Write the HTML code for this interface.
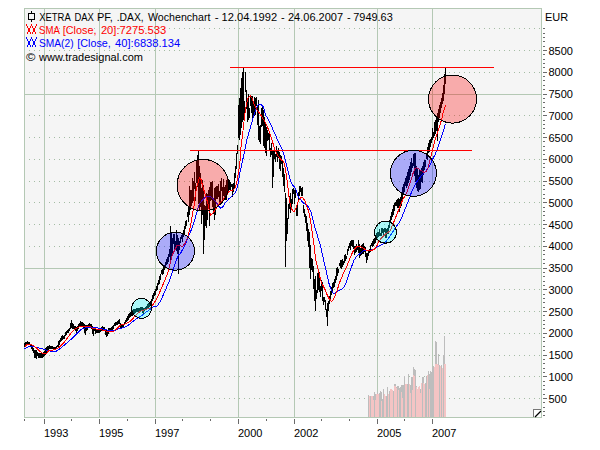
<!DOCTYPE html>
<html><head><meta charset="utf-8"><title>DAX Wochenchart</title>
<style>html,body{margin:0;padding:0;background:#fff;width:600px;height:450px;overflow:hidden}svg{display:block}</style>
</head><body>
<svg width="600" height="450" viewBox="0 0 600 450"><rect x="24" y="8" width="518" height="410" fill="#f5f5f5"/>
<line x1="29" y1="28.5" x2="541" y2="28.5" stroke="#a4bca4" stroke-width="1" stroke-dasharray="1 4"/>
<line x1="29" y1="50.5" x2="541" y2="50.5" stroke="#a4bca4" stroke-width="1" stroke-dasharray="1 4"/>
<line x1="29" y1="72.5" x2="541" y2="72.5" stroke="#a4bca4" stroke-width="1" stroke-dasharray="1 4"/>
<line x1="29" y1="115.5" x2="541" y2="115.5" stroke="#a4bca4" stroke-width="1" stroke-dasharray="1 4"/>
<line x1="29" y1="137.5" x2="541" y2="137.5" stroke="#a4bca4" stroke-width="1" stroke-dasharray="1 4"/>
<line x1="29" y1="159.5" x2="541" y2="159.5" stroke="#a4bca4" stroke-width="1" stroke-dasharray="1 4"/>
<line x1="29" y1="181.5" x2="541" y2="181.5" stroke="#a4bca4" stroke-width="1" stroke-dasharray="1 4"/>
<line x1="29" y1="202.5" x2="541" y2="202.5" stroke="#a4bca4" stroke-width="1" stroke-dasharray="1 4"/>
<line x1="29" y1="224.5" x2="541" y2="224.5" stroke="#a4bca4" stroke-width="1" stroke-dasharray="1 4"/>
<line x1="29" y1="246.5" x2="541" y2="246.5" stroke="#a4bca4" stroke-width="1" stroke-dasharray="1 4"/>
<line x1="29" y1="289.5" x2="541" y2="289.5" stroke="#a4bca4" stroke-width="1" stroke-dasharray="1 4"/>
<line x1="29" y1="311.5" x2="541" y2="311.5" stroke="#a4bca4" stroke-width="1" stroke-dasharray="1 4"/>
<line x1="29" y1="333.5" x2="541" y2="333.5" stroke="#a4bca4" stroke-width="1" stroke-dasharray="1 4"/>
<line x1="29" y1="355.5" x2="541" y2="355.5" stroke="#a4bca4" stroke-width="1" stroke-dasharray="1 4"/>
<line x1="29" y1="376.5" x2="541" y2="376.5" stroke="#a4bca4" stroke-width="1" stroke-dasharray="1 4"/>
<line x1="29" y1="398.5" x2="541" y2="398.5" stroke="#a4bca4" stroke-width="1" stroke-dasharray="1 4"/>
<line x1="24" y1="94.5" x2="541" y2="94.5" stroke="#b4c8b4" stroke-width="1"/>
<line x1="24" y1="268.5" x2="541" y2="268.5" stroke="#b4c8b4" stroke-width="1"/>
<line x1="44.5" y1="8" x2="44.5" y2="417" stroke="#b4c8b4" stroke-width="1"/>
<line x1="99.5" y1="8" x2="99.5" y2="417" stroke="#b4c8b4" stroke-width="1"/>
<line x1="155.5" y1="8" x2="155.5" y2="417" stroke="#b4c8b4" stroke-width="1"/>
<line x1="238.5" y1="8" x2="238.5" y2="417" stroke="#b4c8b4" stroke-width="1"/>
<line x1="294.5" y1="8" x2="294.5" y2="417" stroke="#b4c8b4" stroke-width="1"/>
<line x1="377.5" y1="8" x2="377.5" y2="417" stroke="#b4c8b4" stroke-width="1"/>
<line x1="432.5" y1="8" x2="432.5" y2="417" stroke="#b4c8b4" stroke-width="1"/>
<rect x="24.5" y="8.5" width="517" height="409" fill="none" stroke="#b4c8b4" stroke-width="1"/>
<g shape-rendering="crispEdges"><g fill="#bdbdbd"><rect x="368" y="395" width="1" height="22"/><rect x="370" y="396" width="1" height="21"/><rect x="373" y="396" width="1" height="21"/><rect x="374" y="392" width="1" height="25"/><rect x="375" y="394" width="1" height="23"/><rect x="377" y="392" width="1" height="25"/><rect x="379" y="393" width="1" height="24"/><rect x="380" y="391" width="1" height="26"/><rect x="381" y="392" width="1" height="25"/><rect x="382" y="399" width="1" height="18"/><rect x="383" y="389" width="1" height="28"/><rect x="386" y="396" width="1" height="21"/><rect x="387" y="387" width="1" height="30"/><rect x="389" y="391" width="1" height="26"/><rect x="392" y="391" width="1" height="26"/><rect x="393" y="391" width="1" height="26"/><rect x="394" y="384" width="1" height="33"/><rect x="395" y="384" width="1" height="33"/><rect x="396" y="387" width="1" height="30"/><rect x="397" y="386" width="1" height="31"/><rect x="398" y="386" width="1" height="31"/><rect x="399" y="388" width="1" height="29"/><rect x="400" y="387" width="1" height="30"/><rect x="401" y="385" width="1" height="32"/><rect x="402" y="385" width="1" height="32"/><rect x="403" y="385" width="1" height="32"/><rect x="404" y="376" width="1" height="41"/><rect x="407" y="384" width="1" height="33"/><rect x="408" y="374" width="1" height="43"/><rect x="410" y="385" width="1" height="32"/><rect x="411" y="377" width="1" height="40"/><rect x="412" y="377" width="1" height="40"/><rect x="413" y="367" width="1" height="50"/><rect x="414" y="369" width="1" height="48"/><rect x="415" y="370" width="1" height="47"/><rect x="416" y="386" width="1" height="31"/><rect x="420" y="389" width="1" height="28"/><rect x="422" y="377" width="1" height="40"/><rect x="423" y="377" width="1" height="40"/><rect x="425" y="383" width="1" height="34"/><rect x="426" y="376" width="1" height="41"/><rect x="428" y="371" width="1" height="46"/><rect x="429" y="374" width="1" height="43"/><rect x="430" y="371" width="1" height="46"/><rect x="431" y="372" width="1" height="45"/><rect x="432" y="367" width="1" height="50"/><rect x="433" y="366" width="1" height="51"/><rect x="435" y="341" width="1" height="76"/><rect x="436" y="342" width="1" height="75"/><rect x="438" y="354" width="1" height="63"/><rect x="439" y="365" width="1" height="52"/><rect x="441" y="365" width="1" height="52"/><rect x="443" y="355" width="1" height="62"/><rect x="444" y="336" width="1" height="81"/></g><g fill="#f4c4c4"><rect x="369" y="396" width="1" height="21"/><rect x="371" y="396" width="1" height="21"/><rect x="372" y="396" width="1" height="21"/><rect x="373" y="400" width="1" height="17"/><rect x="375" y="400" width="1" height="17"/><rect x="376" y="394" width="1" height="23"/><rect x="377" y="394" width="1" height="23"/><rect x="378" y="394" width="1" height="23"/><rect x="381" y="401" width="1" height="16"/><rect x="384" y="394" width="1" height="23"/><rect x="385" y="396" width="1" height="21"/><rect x="388" y="394" width="1" height="23"/><rect x="390" y="389" width="1" height="28"/><rect x="391" y="389" width="1" height="28"/><rect x="392" y="390" width="1" height="27"/><rect x="394" y="386" width="1" height="31"/><rect x="395" y="386" width="1" height="31"/><rect x="396" y="388" width="1" height="29"/><rect x="398" y="390" width="1" height="27"/><rect x="401" y="392" width="1" height="25"/><rect x="402" y="398" width="1" height="19"/><rect x="405" y="384" width="1" height="33"/><rect x="406" y="384" width="1" height="33"/><rect x="409" y="384" width="1" height="33"/><rect x="410" y="393" width="1" height="24"/><rect x="412" y="390" width="1" height="27"/><rect x="413" y="375" width="1" height="42"/><rect x="414" y="376" width="1" height="41"/><rect x="416" y="387" width="1" height="30"/><rect x="417" y="389" width="1" height="28"/><rect x="418" y="387" width="1" height="30"/><rect x="419" y="386" width="1" height="31"/><rect x="420" y="393" width="1" height="24"/><rect x="421" y="383" width="1" height="34"/><rect x="423" y="383" width="1" height="34"/><rect x="424" y="384" width="1" height="33"/><rect x="427" y="375" width="1" height="42"/><rect x="429" y="389" width="1" height="28"/><rect x="434" y="367" width="1" height="50"/><rect x="435" y="364" width="1" height="53"/><rect x="436" y="364" width="1" height="53"/><rect x="437" y="364" width="1" height="53"/><rect x="438" y="365" width="1" height="52"/><rect x="440" y="366" width="1" height="51"/><rect x="442" y="368" width="1" height="49"/><rect x="444" y="364" width="1" height="53"/><rect x="445" y="364" width="1" height="53"/></g></g>
<g fill="#000" shape-rendering="crispEdges"><rect x="24" y="343" width="1" height="4"/><rect x="25" y="342" width="1" height="5"/><rect x="26" y="342" width="1" height="4"/><rect x="27" y="341" width="1" height="4"/><rect x="28" y="342" width="1" height="3"/><rect x="29" y="342" width="1" height="3"/><rect x="30" y="344" width="1" height="3"/><rect x="31" y="345" width="1" height="4"/><rect x="32" y="347" width="1" height="4"/><rect x="33" y="348" width="1" height="5"/><rect x="34" y="350" width="1" height="8"/><rect x="35" y="350" width="1" height="8"/><rect x="36" y="350" width="1" height="9"/><rect x="37" y="352" width="1" height="4"/><rect x="38" y="353" width="1" height="5"/><rect x="39" y="353" width="1" height="5"/><rect x="40" y="353" width="1" height="5"/><rect x="41" y="353" width="1" height="5"/><rect x="42" y="353" width="1" height="5"/><rect x="43" y="352" width="1" height="5"/><rect x="44" y="351" width="1" height="5"/><rect x="45" y="348" width="1" height="7"/><rect x="46" y="347" width="1" height="7"/><rect x="47" y="346" width="1" height="5"/><rect x="48" y="346" width="1" height="4"/><rect x="49" y="345" width="1" height="4"/><rect x="50" y="346" width="1" height="3"/><rect x="51" y="346" width="1" height="3"/><rect x="52" y="346" width="1" height="3"/><rect x="53" y="347" width="1" height="2"/><rect x="54" y="347" width="1" height="3"/><rect x="55" y="347" width="1" height="3"/><rect x="56" y="346" width="1" height="2"/><rect x="57" y="345" width="1" height="2"/><rect x="58" y="341" width="1" height="6"/><rect x="59" y="340" width="1" height="5"/><rect x="60" y="338" width="1" height="4"/><rect x="61" y="336" width="1" height="5"/><rect x="62" y="335" width="1" height="5"/><rect x="63" y="336" width="1" height="3"/><rect x="64" y="335" width="1" height="4"/><rect x="65" y="332" width="1" height="4"/><rect x="66" y="331" width="1" height="4"/><rect x="67" y="330" width="1" height="3"/><rect x="68" y="329" width="1" height="4"/><rect x="69" y="328" width="1" height="3"/><rect x="70" y="323" width="1" height="6"/><rect x="71" y="320" width="1" height="8"/><rect x="72" y="323" width="1" height="6"/><rect x="73" y="324" width="1" height="5"/><rect x="74" y="326" width="1" height="3"/><rect x="75" y="326" width="1" height="5"/><rect x="76" y="327" width="1" height="6"/><rect x="77" y="326" width="1" height="5"/><rect x="78" y="324" width="1" height="5"/><rect x="79" y="323" width="1" height="4"/><rect x="80" y="321" width="1" height="5"/><rect x="81" y="322" width="1" height="4"/><rect x="82" y="322" width="1" height="4"/><rect x="83" y="323" width="1" height="6"/><rect x="84" y="324" width="1" height="9"/><rect x="85" y="325" width="1" height="10"/><rect x="86" y="325" width="1" height="6"/><rect x="87" y="325" width="1" height="5"/><rect x="88" y="324" width="1" height="4"/><rect x="89" y="323" width="1" height="4"/><rect x="90" y="324" width="1" height="3"/><rect x="91" y="324" width="1" height="5"/><rect x="92" y="326" width="1" height="8"/><rect x="93" y="329" width="1" height="7"/><rect x="94" y="327" width="1" height="4"/><rect x="95" y="327" width="1" height="7"/><rect x="96" y="329" width="1" height="4"/><rect x="97" y="329" width="1" height="4"/><rect x="98" y="329" width="1" height="4"/><rect x="99" y="329" width="1" height="4"/><rect x="100" y="328" width="1" height="4"/><rect x="101" y="327" width="1" height="4"/><rect x="102" y="326" width="1" height="4"/><rect x="103" y="327" width="1" height="4"/><rect x="104" y="327" width="1" height="4"/><rect x="105" y="329" width="1" height="6"/><rect x="106" y="330" width="1" height="7"/><rect x="107" y="330" width="1" height="6"/><rect x="108" y="328" width="1" height="6"/><rect x="109" y="328" width="1" height="4"/><rect x="110" y="328" width="1" height="2"/><rect x="111" y="327" width="1" height="3"/><rect x="112" y="326" width="1" height="4"/><rect x="113" y="325" width="1" height="4"/><rect x="114" y="323" width="1" height="3"/><rect x="115" y="322" width="1" height="4"/><rect x="116" y="322" width="1" height="3"/><rect x="117" y="321" width="1" height="4"/><rect x="118" y="320" width="1" height="4"/><rect x="119" y="319" width="1" height="5"/><rect x="120" y="323" width="1" height="5"/><rect x="121" y="324" width="1" height="5"/><rect x="122" y="325" width="1" height="3"/><rect x="123" y="324" width="1" height="3"/><rect x="124" y="322" width="1" height="3"/><rect x="125" y="320" width="1" height="3"/><rect x="126" y="318" width="1" height="4"/><rect x="127" y="316" width="1" height="5"/><rect x="128" y="314" width="1" height="6"/><rect x="129" y="313" width="1" height="5"/><rect x="130" y="312" width="1" height="5"/><rect x="131" y="311" width="1" height="5"/><rect x="132" y="310" width="1" height="6"/><rect x="133" y="309" width="1" height="6"/><rect x="134" y="309" width="1" height="5"/><rect x="135" y="309" width="1" height="4"/><rect x="136" y="308" width="1" height="4"/><rect x="137" y="308" width="1" height="4"/><rect x="138" y="308" width="1" height="4"/><rect x="139" y="308" width="1" height="3"/><rect x="140" y="307" width="1" height="4"/><rect x="141" y="307" width="1" height="4"/><rect x="142" y="307" width="1" height="6"/><rect x="143" y="308" width="1" height="6"/><rect x="144" y="308" width="1" height="3"/><rect x="145" y="307" width="1" height="3"/><rect x="146" y="306" width="1" height="3"/><rect x="147" y="304" width="1" height="5"/><rect x="148" y="303" width="1" height="5"/><rect x="149" y="302" width="1" height="5"/><rect x="150" y="301" width="1" height="5"/><rect x="151" y="299" width="1" height="7"/><rect x="152" y="295" width="1" height="6"/><rect x="153" y="293" width="1" height="6"/><rect x="154" y="291" width="1" height="5"/><rect x="155" y="289" width="1" height="6"/><rect x="156" y="286" width="1" height="5"/><rect x="157" y="283" width="1" height="7"/><rect x="158" y="280" width="1" height="5"/><rect x="159" y="276" width="1" height="8"/><rect x="160" y="274" width="1" height="6"/><rect x="161" y="270" width="1" height="4"/><rect x="162" y="269" width="1" height="6"/><rect x="163" y="267" width="1" height="7"/><rect x="164" y="265" width="1" height="5"/><rect x="165" y="262" width="1" height="5"/><rect x="166" y="259" width="1" height="6"/><rect x="167" y="257" width="1" height="7"/><rect x="168" y="254" width="1" height="8"/><rect x="169" y="249" width="1" height="8"/><rect x="170" y="226" width="1" height="36"/><rect x="171" y="232" width="1" height="24"/><rect x="172" y="238" width="1" height="17"/><rect x="173" y="234" width="1" height="10"/><rect x="174" y="234" width="1" height="18"/><rect x="175" y="241" width="1" height="9"/><rect x="176" y="230" width="1" height="21"/><rect x="177" y="235" width="1" height="19"/><rect x="178" y="238" width="1" height="36"/><rect x="179" y="241" width="1" height="9"/><rect x="180" y="237" width="1" height="6"/><rect x="181" y="235" width="1" height="4"/><rect x="182" y="234" width="1" height="8"/><rect x="183" y="230" width="1" height="7"/><rect x="184" y="226" width="1" height="9"/><rect x="185" y="221" width="1" height="8"/><rect x="186" y="220" width="1" height="6"/><rect x="187" y="212" width="1" height="5"/><rect x="188" y="206" width="1" height="16"/><rect x="189" y="186" width="1" height="29"/><rect x="190" y="190" width="1" height="20"/><rect x="191" y="190" width="1" height="16"/><rect x="192" y="178" width="1" height="25"/><rect x="193" y="181" width="1" height="20"/><rect x="194" y="172" width="1" height="17"/><rect x="195" y="183" width="1" height="18"/><rect x="196" y="161" width="1" height="22"/><rect x="197" y="155" width="1" height="32"/><rect x="198" y="151" width="1" height="53"/><rect x="199" y="166" width="1" height="45"/><rect x="200" y="173" width="1" height="34"/><rect x="201" y="188" width="1" height="36"/><rect x="202" y="180" width="1" height="35"/><rect x="203" y="185" width="1" height="69"/><rect x="204" y="205" width="1" height="35"/><rect x="205" y="206" width="1" height="20"/><rect x="206" y="193" width="1" height="35"/><rect x="207" y="194" width="1" height="26"/><rect x="208" y="190" width="1" height="16"/><rect x="209" y="187" width="1" height="39"/><rect x="210" y="182" width="1" height="19"/><rect x="211" y="182" width="1" height="18"/><rect x="212" y="181" width="1" height="26"/><rect x="213" y="198" width="1" height="16"/><rect x="214" y="188" width="1" height="32"/><rect x="215" y="187" width="1" height="28"/><rect x="216" y="186" width="1" height="13"/><rect x="217" y="186" width="1" height="13"/><rect x="218" y="184" width="1" height="13"/><rect x="219" y="191" width="1" height="14"/><rect x="220" y="181" width="1" height="24"/><rect x="221" y="178" width="1" height="13"/><rect x="222" y="187" width="1" height="16"/><rect x="223" y="179" width="1" height="17"/><rect x="224" y="187" width="1" height="13"/><rect x="225" y="185" width="1" height="15"/><rect x="226" y="180" width="1" height="20"/><rect x="227" y="176" width="1" height="17"/><rect x="228" y="181" width="1" height="12"/><rect x="229" y="180" width="1" height="10"/><rect x="230" y="182" width="1" height="9"/><rect x="231" y="184" width="1" height="3"/><rect x="232" y="184" width="1" height="13"/><rect x="233" y="183" width="1" height="9"/><rect x="234" y="173" width="1" height="16"/><rect x="235" y="166" width="1" height="12"/><rect x="236" y="153" width="1" height="16"/><rect x="237" y="145" width="1" height="9"/><rect x="238" y="105" width="1" height="33"/><rect x="239" y="98" width="1" height="42"/><rect x="240" y="88" width="1" height="47"/><rect x="241" y="78" width="1" height="50"/><rect x="242" y="72" width="1" height="50"/><rect x="243" y="68" width="1" height="52"/><rect x="244" y="101" width="1" height="20"/><rect x="245" y="72" width="1" height="20"/><rect x="246" y="90" width="1" height="19"/><rect x="247" y="101" width="1" height="21"/><rect x="248" y="94" width="1" height="26"/><rect x="249" y="108" width="1" height="10"/><rect x="250" y="96" width="1" height="10"/><rect x="251" y="96" width="1" height="17"/><rect x="252" y="96" width="1" height="22"/><rect x="253" y="103" width="1" height="14"/><rect x="254" y="97" width="1" height="19"/><rect x="255" y="98" width="1" height="17"/><rect x="256" y="97" width="1" height="9"/><rect x="257" y="107" width="1" height="18"/><rect x="258" y="100" width="1" height="40"/><rect x="259" y="126" width="1" height="16"/><rect x="260" y="125" width="1" height="19"/><rect x="261" y="108" width="1" height="19"/><rect x="262" y="107" width="1" height="19"/><rect x="263" y="110" width="1" height="36"/><rect x="264" y="117" width="1" height="31"/><rect x="265" y="122" width="1" height="31"/><rect x="266" y="127" width="1" height="29"/><rect x="267" y="130" width="1" height="11"/><rect x="268" y="133" width="1" height="7"/><rect x="269" y="134" width="1" height="17"/><rect x="270" y="148" width="1" height="9"/><rect x="271" y="143" width="1" height="12"/><rect x="272" y="150" width="1" height="38"/><rect x="273" y="151" width="1" height="26"/><rect x="274" y="149" width="1" height="10"/><rect x="275" y="154" width="1" height="8"/><rect x="276" y="146" width="1" height="11"/><rect x="277" y="151" width="1" height="11"/><rect x="278" y="148" width="1" height="10"/><rect x="279" y="152" width="1" height="17"/><rect x="280" y="155" width="1" height="16"/><rect x="281" y="156" width="1" height="8"/><rect x="282" y="160" width="1" height="17"/><rect x="283" y="168" width="1" height="18"/><rect x="284" y="174" width="1" height="18"/><rect x="285" y="193" width="1" height="74"/><rect x="286" y="198" width="1" height="43"/><rect x="287" y="218" width="1" height="16"/><rect x="288" y="204" width="1" height="15"/><rect x="289" y="196" width="1" height="13"/><rect x="290" y="193" width="1" height="20"/><rect x="291" y="199" width="1" height="11"/><rect x="292" y="189" width="1" height="15"/><rect x="293" y="188" width="1" height="6"/><rect x="294" y="190" width="1" height="14"/><rect x="295" y="190" width="1" height="8"/><rect x="296" y="206" width="1" height="10"/><rect x="297" y="205" width="1" height="11"/><rect x="298" y="192" width="1" height="10"/><rect x="299" y="186" width="1" height="10"/><rect x="300" y="186" width="1" height="6"/><rect x="301" y="188" width="1" height="8"/><rect x="302" y="187" width="1" height="9"/><rect x="303" y="205" width="1" height="8"/><rect x="304" y="209" width="1" height="8"/><rect x="305" y="214" width="1" height="9"/><rect x="306" y="216" width="1" height="15"/><rect x="307" y="223" width="1" height="18"/><rect x="308" y="229" width="1" height="18"/><rect x="309" y="232" width="1" height="36"/><rect x="310" y="245" width="1" height="34"/><rect x="311" y="258" width="1" height="12"/><rect x="312" y="259" width="1" height="13"/><rect x="313" y="266" width="1" height="23"/><rect x="314" y="279" width="1" height="22"/><rect x="315" y="276" width="1" height="35"/><rect x="316" y="290" width="1" height="9"/><rect x="317" y="273" width="1" height="20"/><rect x="318" y="270" width="1" height="20"/><rect x="319" y="272" width="1" height="20"/><rect x="320" y="286" width="1" height="11"/><rect x="321" y="280" width="1" height="11"/><rect x="322" y="282" width="1" height="19"/><rect x="323" y="297" width="1" height="8"/><rect x="324" y="297" width="1" height="5"/><rect x="325" y="300" width="1" height="10"/><rect x="326" y="309" width="1" height="8"/><rect x="327" y="303" width="1" height="23"/><rect x="328" y="301" width="1" height="10"/><rect x="329" y="296" width="1" height="8"/><rect x="330" y="291" width="1" height="10"/><rect x="331" y="287" width="1" height="8"/><rect x="332" y="283" width="1" height="8"/><rect x="333" y="282" width="1" height="6"/><rect x="334" y="279" width="1" height="8"/><rect x="335" y="276" width="1" height="7"/><rect x="336" y="268" width="1" height="12"/><rect x="337" y="267" width="1" height="9"/><rect x="338" y="269" width="1" height="4"/><rect x="339" y="263" width="1" height="3"/><rect x="340" y="260" width="1" height="8"/><rect x="341" y="260" width="1" height="9"/><rect x="342" y="259" width="1" height="8"/><rect x="343" y="261" width="1" height="4"/><rect x="344" y="255" width="1" height="8"/><rect x="345" y="254" width="1" height="7"/><rect x="346" y="256" width="1" height="3"/><rect x="347" y="249" width="1" height="6"/><rect x="348" y="246" width="1" height="5"/><rect x="349" y="243" width="1" height="5"/><rect x="350" y="241" width="1" height="9"/><rect x="351" y="240" width="1" height="6"/><rect x="352" y="240" width="1" height="7"/><rect x="353" y="240" width="1" height="9"/><rect x="354" y="246" width="1" height="9"/><rect x="355" y="246" width="1" height="7"/><rect x="356" y="244" width="1" height="8"/><rect x="357" y="246" width="1" height="4"/><rect x="358" y="240" width="1" height="13"/><rect x="359" y="244" width="1" height="14"/><rect x="360" y="248" width="1" height="8"/><rect x="361" y="245" width="1" height="10"/><rect x="362" y="244" width="1" height="10"/><rect x="363" y="243" width="1" height="11"/><rect x="364" y="246" width="1" height="6"/><rect x="365" y="247" width="1" height="10"/><rect x="366" y="253" width="1" height="10"/><rect x="367" y="253" width="1" height="7"/><rect x="368" y="251" width="1" height="5"/><rect x="369" y="249" width="1" height="4"/><rect x="370" y="245" width="1" height="7"/><rect x="371" y="243" width="1" height="3"/><rect x="372" y="241" width="1" height="6"/><rect x="373" y="239" width="1" height="7"/><rect x="374" y="238" width="1" height="6"/><rect x="375" y="238" width="1" height="5"/><rect x="376" y="233" width="1" height="7"/><rect x="377" y="232" width="1" height="6"/><rect x="378" y="232" width="1" height="5"/><rect x="379" y="229" width="1" height="7"/><rect x="380" y="233" width="1" height="3"/><rect x="381" y="228" width="1" height="8"/><rect x="382" y="228" width="1" height="5"/><rect x="383" y="229" width="1" height="6"/><rect x="384" y="228" width="1" height="4"/><rect x="385" y="228" width="1" height="10"/><rect x="386" y="229" width="1" height="9"/><rect x="387" y="228" width="1" height="6"/><rect x="388" y="225" width="1" height="9"/><rect x="389" y="220" width="1" height="8"/><rect x="390" y="216" width="1" height="7"/><rect x="391" y="212" width="1" height="8"/><rect x="392" y="209" width="1" height="8"/><rect x="393" y="205" width="1" height="10"/><rect x="394" y="203" width="1" height="8"/><rect x="395" y="202" width="1" height="4"/><rect x="396" y="200" width="1" height="6"/><rect x="397" y="199" width="1" height="9"/><rect x="398" y="198" width="1" height="10"/><rect x="399" y="199" width="1" height="13"/><rect x="400" y="197" width="1" height="11"/><rect x="401" y="192" width="1" height="14"/><rect x="402" y="187" width="1" height="12"/><rect x="403" y="184" width="1" height="11"/><rect x="404" y="182" width="1" height="10"/><rect x="405" y="178" width="1" height="8"/><rect x="406" y="176" width="1" height="12"/><rect x="407" y="172" width="1" height="14"/><rect x="408" y="169" width="1" height="14"/><rect x="409" y="166" width="1" height="14"/><rect x="410" y="162" width="1" height="14"/><rect x="411" y="158" width="1" height="14"/><rect x="412" y="163" width="1" height="5"/><rect x="413" y="154" width="1" height="12"/><rect x="414" y="153" width="1" height="23"/><rect x="415" y="153" width="1" height="29"/><rect x="416" y="166" width="1" height="22"/><rect x="417" y="168" width="1" height="23"/><rect x="418" y="175" width="1" height="17"/><rect x="419" y="170" width="1" height="20"/><rect x="420" y="170" width="1" height="19"/><rect x="421" y="168" width="1" height="14"/><rect x="422" y="166" width="1" height="17"/><rect x="423" y="162" width="1" height="13"/><rect x="424" y="160" width="1" height="10"/><rect x="425" y="160" width="1" height="7"/><rect x="426" y="153" width="1" height="6"/><rect x="427" y="147" width="1" height="13"/><rect x="428" y="143" width="1" height="10"/><rect x="429" y="140" width="1" height="12"/><rect x="430" y="139" width="1" height="8"/><rect x="431" y="137" width="1" height="6"/><rect x="432" y="128" width="1" height="12"/><rect x="433" y="132" width="1" height="6"/><rect x="434" y="122" width="1" height="14"/><rect x="435" y="120" width="1" height="14"/><rect x="436" y="116" width="1" height="15"/><rect x="437" y="113" width="1" height="28"/><rect x="438" y="109" width="1" height="13"/><rect x="439" y="105" width="1" height="13"/><rect x="440" y="102" width="1" height="11"/><rect x="441" y="98" width="1" height="10"/><rect x="442" y="93" width="1" height="11"/><rect x="443" y="85" width="1" height="16"/><rect x="444" y="74" width="1" height="20"/><rect x="445" y="68" width="1" height="16"/></g>
<polyline points="24.5,348.7 28.7,346.7 34.0,346.7 39.3,348.0 44.0,349.3 48.0,350.7 52.0,351.3 56.0,351.3 59.3,349.3 63.3,346.0 68.7,341.3 74.0,336.7 78.0,332.5 81.0,329.5 83.0,328.7 87.0,327.3 91.0,327.3 96.0,327.7 100.0,328.3 102.7,329.0 106.7,330.0 110.7,330.3 115.3,330.3 118.0,329.0 121.3,328.3 124.7,327.3 127.3,326.0 131.0,323.0 133.3,321.3 136.3,318.8 140.0,316.7 143.2,314.6 146.4,311.9 149.6,309.7 152.8,307.0 157.0,306.3 161.0,300.3 165.0,291.0 169.0,281.7 171.7,273.7 173.7,268.3 176.3,260.3 178.3,255.0 180.0,254.3 184.7,245.7 188.0,237.7 192.0,228.3 195.3,217.7 197.3,211.0 198.7,205.5 200.6,202.2 203.9,198.3 207.2,196.7 210.6,196.7 213.3,198.9 216.1,202.2 218.3,205.6 220.6,208.3 222.8,206.7 225.6,202.2 228.3,199.4 231.7,196.1 233.9,194.4 236.1,191.1 237.8,185.6 238.9,178.9 240.0,172.2 242.5,161.0 245.0,149.3 247.0,139.3 249.7,130.0 253.0,118.0 255.7,110.0 258.3,104.7 261.0,104.7 263.7,107.3 265.7,115.3 268.3,119.3 271.0,124.7 273.7,131.3 275.5,135.0 277.5,140.0 280.3,145.7 282.3,149.7 284.3,156.3 286.3,164.3 288.3,172.3 290.3,180.3 292.3,184.5 295.0,187.7 297.0,193.0 299.0,198.3 301.7,201.0 304.3,203.7 307.0,205.7 309.0,207.7 311.0,211.7 313.0,219.7 315.0,227.7 317.0,234.3 319.0,241.0 320.5,246.0 322.0,252.7 324.0,262.0 326.0,270.0 327.5,277.0 329.3,284.7 331.3,290.0 333.3,293.3 336.0,292.7 338.7,290.7 342.7,288.7 345.3,284.7 348.0,277.0 350.7,269.0 354.0,260.3 356.7,256.3 360.7,253.0 364.0,250.3 367.3,250.0 371.3,250.0 374.7,249.0 377.3,247.0 380.7,245.0 383.3,243.7 386.0,241.7 390.0,236.0 392.0,233.0 395.0,228.3 399.0,223.0 401.7,217.7 404.3,211.0 407.0,204.3 409.7,197.7 411.5,192.0 414.0,187.0 417.0,181.5 420.0,177.5 423.0,174.0 426.3,170.5 429.7,165.3 432.3,160.0 435.0,154.7 437.7,148.0 440.3,140.0 443.0,132.0 445.0,125.3 445.7,124.0" fill="none" stroke="#0000ff" stroke-width="1" shape-rendering="crispEdges"/>
<polyline points="24.5,347.5 26.0,345.5 27.5,344.3 30.0,344.0 34.0,346.0 37.3,348.7 40.7,352.0 44.0,354.0 46.7,353.3 48.7,350.7 52.7,350.0 56.7,348.7 60.0,346.7 63.3,343.3 67.3,338.0 71.3,332.7 75.3,328.7 79.3,326.7 83.0,326.0 87.0,326.7 89.7,326.0 92.3,328.0 96.0,329.0 100.0,329.7 103.3,330.3 107.3,331.3 113.3,331.5 116.0,329.3 118.0,327.7 120.0,325.3 122.7,324.5 125.3,324.0 128.0,322.7 130.3,321.3 133.3,318.0 134.7,316.2 137.9,313.0 141.6,310.8 145.4,309.7 148.0,308.7 150.7,307.6 152.8,305.0 155.7,300.3 159.7,292.3 163.7,283.0 167.0,275.0 169.0,268.3 171.0,260.3 172.3,255.0 177.3,245.0 180.0,245.7 182.7,246.3 185.3,243.0 188.0,236.3 189.3,231.0 191.3,221.7 192.7,213.0 194.0,206.0 195.3,195.0 197.3,185.0 199.4,177.8 200.7,178.3 202.8,186.7 205.6,195.6 207.8,203.3 209.4,211.1 210.6,215.6 212.8,213.3 215.0,210.0 217.2,206.7 219.4,203.3 222.8,200.0 226.1,195.6 229.4,191.1 232.8,190.0 235.0,187.8 236.7,183.3 237.8,176.7 238.9,170.0 240.0,161.0 241.0,146.7 242.2,138.0 243.5,126.0 245.0,113.0 247.7,98.0 250.3,96.0 252.3,98.7 254.3,104.7 257.0,110.0 259.7,113.3 261.7,116.7 264.3,120.7 267.0,126.0 269.7,132.7 271.5,138.5 273.0,143.5 274.3,148.3 276.3,152.3 278.3,156.3 281.0,159.7 283.7,161.7 285.0,167.0 286.3,175.0 287.7,185.5 289.0,197.0 290.3,205.0 292.3,210.3 294.3,211.7 296.3,207.7 298.3,201.0 301.0,197.7 303.0,197.7 305.0,201.0 306.3,205.0 308.3,210.3 309.7,215.7 311.0,223.7 312.3,233.0 313.5,241.0 314.7,251.3 316.0,260.7 318.0,269.0 320.0,277.5 322.0,283.8 324.7,288.7 326.7,294.0 328.7,298.0 331.3,301.3 333.3,300.0 335.3,295.3 337.3,290.0 339.3,283.3 342.0,276.7 344.0,272.0 346.0,268.3 348.7,261.7 351.3,255.0 354.0,249.7 356.7,246.7 359.3,246.3 362.7,247.7 365.3,249.7 368.7,251.0 372.0,250.3 374.7,249.0 376.7,246.3 378.7,241.7 380.7,239.0 383.3,236.3 386.0,233.7 390.0,231.0 392.3,225.7 395.0,219.0 397.7,212.3 400.3,205.7 403.0,199.0 405.7,195.0 407.0,192.0 410.0,183.0 413.0,173.5 415.0,168.5 416.5,167.5 418.0,168.5 420.0,170.0 422.0,171.0 424.0,172.5 426.3,171.3 428.0,168.0 429.0,164.0 431.0,156.0 433.0,148.0 435.0,140.0 437.7,132.0 440.3,124.0 441.7,119.0 443.4,111.6 445.6,105.3" fill="none" stroke="#ff0000" stroke-width="1" shape-rendering="crispEdges"/>
<line x1="230" y1="67.5" x2="494" y2="67.5" stroke="#ff0000" stroke-width="1" shape-rendering="crispEdges"/>
<line x1="190" y1="150.5" x2="472" y2="150.5" stroke="#ff0000" stroke-width="1" shape-rendering="crispEdges"/>
<circle cx="141.5" cy="308.4" r="10" fill="#00ffff" fill-opacity="0.3" stroke="#000" stroke-width="1" shape-rendering="crispEdges"/>
<circle cx="175.4" cy="251.2" r="19" fill="#0000ff" fill-opacity="0.3" stroke="#000" stroke-width="1" shape-rendering="crispEdges"/>
<circle cx="202.9" cy="185.2" r="25.8" fill="#ff0000" fill-opacity="0.3" stroke="#000" stroke-width="1" shape-rendering="crispEdges"/>
<circle cx="385.5" cy="232.2" r="11" fill="#00ffff" fill-opacity="0.3" stroke="#000" stroke-width="1" shape-rendering="crispEdges"/>
<circle cx="413.4" cy="173.3" r="23" fill="#0000ff" fill-opacity="0.3" stroke="#000" stroke-width="1" shape-rendering="crispEdges"/>
<circle cx="452.5" cy="99.1" r="24" fill="#ff0000" fill-opacity="0.3" stroke="#000" stroke-width="1" shape-rendering="crispEdges"/>
<g shape-rendering="crispEdges"><rect x="543" y="28" width="2" height="1" fill="#6a6a6a"/><rect x="543" y="33" width="2" height="1" fill="#6a6a6a"/><rect x="543" y="37" width="2" height="1" fill="#6a6a6a"/><rect x="543" y="41" width="2" height="1" fill="#6a6a6a"/><rect x="543" y="46" width="2" height="1" fill="#6a6a6a"/><rect x="543" y="50" width="4" height="1" fill="#6a6a6a"/><rect x="543" y="54" width="2" height="1" fill="#6a6a6a"/><rect x="543" y="59" width="2" height="1" fill="#6a6a6a"/><rect x="543" y="63" width="2" height="1" fill="#6a6a6a"/><rect x="543" y="67" width="2" height="1" fill="#6a6a6a"/><rect x="543" y="72" width="4" height="1" fill="#6a6a6a"/><rect x="543" y="76" width="2" height="1" fill="#6a6a6a"/><rect x="543" y="80" width="2" height="1" fill="#6a6a6a"/><rect x="543" y="85" width="2" height="1" fill="#6a6a6a"/><rect x="543" y="89" width="2" height="1" fill="#6a6a6a"/><rect x="543" y="94" width="4" height="1" fill="#6a6a6a"/><rect x="543" y="98" width="2" height="1" fill="#6a6a6a"/><rect x="543" y="102" width="2" height="1" fill="#6a6a6a"/><rect x="543" y="107" width="2" height="1" fill="#6a6a6a"/><rect x="543" y="111" width="2" height="1" fill="#6a6a6a"/><rect x="543" y="115" width="4" height="1" fill="#6a6a6a"/><rect x="543" y="120" width="2" height="1" fill="#6a6a6a"/><rect x="543" y="124" width="2" height="1" fill="#6a6a6a"/><rect x="543" y="128" width="2" height="1" fill="#6a6a6a"/><rect x="543" y="133" width="2" height="1" fill="#6a6a6a"/><rect x="543" y="137" width="4" height="1" fill="#6a6a6a"/><rect x="543" y="141" width="2" height="1" fill="#6a6a6a"/><rect x="543" y="146" width="2" height="1" fill="#6a6a6a"/><rect x="543" y="150" width="2" height="1" fill="#6a6a6a"/><rect x="543" y="154" width="2" height="1" fill="#6a6a6a"/><rect x="543" y="159" width="4" height="1" fill="#6a6a6a"/><rect x="543" y="163" width="2" height="1" fill="#6a6a6a"/><rect x="543" y="167" width="2" height="1" fill="#6a6a6a"/><rect x="543" y="172" width="2" height="1" fill="#6a6a6a"/><rect x="543" y="176" width="2" height="1" fill="#6a6a6a"/><rect x="543" y="181" width="4" height="1" fill="#6a6a6a"/><rect x="543" y="185" width="2" height="1" fill="#6a6a6a"/><rect x="543" y="189" width="2" height="1" fill="#6a6a6a"/><rect x="543" y="194" width="2" height="1" fill="#6a6a6a"/><rect x="543" y="198" width="2" height="1" fill="#6a6a6a"/><rect x="543" y="202" width="4" height="1" fill="#6a6a6a"/><rect x="543" y="207" width="2" height="1" fill="#6a6a6a"/><rect x="543" y="211" width="2" height="1" fill="#6a6a6a"/><rect x="543" y="215" width="2" height="1" fill="#6a6a6a"/><rect x="543" y="220" width="2" height="1" fill="#6a6a6a"/><rect x="543" y="224" width="4" height="1" fill="#6a6a6a"/><rect x="543" y="228" width="2" height="1" fill="#6a6a6a"/><rect x="543" y="233" width="2" height="1" fill="#6a6a6a"/><rect x="543" y="237" width="2" height="1" fill="#6a6a6a"/><rect x="543" y="241" width="2" height="1" fill="#6a6a6a"/><rect x="543" y="246" width="4" height="1" fill="#6a6a6a"/><rect x="543" y="250" width="2" height="1" fill="#6a6a6a"/><rect x="543" y="254" width="2" height="1" fill="#6a6a6a"/><rect x="543" y="259" width="2" height="1" fill="#6a6a6a"/><rect x="543" y="263" width="2" height="1" fill="#6a6a6a"/><rect x="543" y="268" width="4" height="1" fill="#6a6a6a"/><rect x="543" y="272" width="2" height="1" fill="#6a6a6a"/><rect x="543" y="276" width="2" height="1" fill="#6a6a6a"/><rect x="543" y="281" width="2" height="1" fill="#6a6a6a"/><rect x="543" y="285" width="2" height="1" fill="#6a6a6a"/><rect x="543" y="289" width="4" height="1" fill="#6a6a6a"/><rect x="543" y="294" width="2" height="1" fill="#6a6a6a"/><rect x="543" y="298" width="2" height="1" fill="#6a6a6a"/><rect x="543" y="302" width="2" height="1" fill="#6a6a6a"/><rect x="543" y="307" width="2" height="1" fill="#6a6a6a"/><rect x="543" y="311" width="4" height="1" fill="#6a6a6a"/><rect x="543" y="315" width="2" height="1" fill="#6a6a6a"/><rect x="543" y="320" width="2" height="1" fill="#6a6a6a"/><rect x="543" y="324" width="2" height="1" fill="#6a6a6a"/><rect x="543" y="328" width="2" height="1" fill="#6a6a6a"/><rect x="543" y="333" width="4" height="1" fill="#6a6a6a"/><rect x="543" y="337" width="2" height="1" fill="#6a6a6a"/><rect x="543" y="341" width="2" height="1" fill="#6a6a6a"/><rect x="543" y="346" width="2" height="1" fill="#6a6a6a"/><rect x="543" y="350" width="2" height="1" fill="#6a6a6a"/><rect x="543" y="355" width="4" height="1" fill="#6a6a6a"/><rect x="543" y="359" width="2" height="1" fill="#6a6a6a"/><rect x="543" y="363" width="2" height="1" fill="#6a6a6a"/><rect x="543" y="368" width="2" height="1" fill="#6a6a6a"/><rect x="543" y="372" width="2" height="1" fill="#6a6a6a"/><rect x="543" y="376" width="4" height="1" fill="#6a6a6a"/><rect x="543" y="381" width="2" height="1" fill="#6a6a6a"/><rect x="543" y="385" width="2" height="1" fill="#6a6a6a"/><rect x="543" y="389" width="2" height="1" fill="#6a6a6a"/><rect x="543" y="394" width="2" height="1" fill="#6a6a6a"/><rect x="543" y="398" width="4" height="1" fill="#6a6a6a"/><rect x="543" y="402" width="2" height="1" fill="#6a6a6a"/><rect x="543" y="407" width="2" height="1" fill="#6a6a6a"/><rect x="543" y="411" width="2" height="1" fill="#6a6a6a"/><rect x="543" y="415" width="2" height="1" fill="#6a6a6a"/></g>
<g shape-rendering="crispEdges"><rect x="44" y="419" width="1" height="5" fill="#6a6a6a"/><rect x="99" y="419" width="1" height="5" fill="#6a6a6a"/><rect x="155" y="419" width="1" height="5" fill="#6a6a6a"/><rect x="238" y="419" width="1" height="5" fill="#6a6a6a"/><rect x="294" y="419" width="1" height="5" fill="#6a6a6a"/><rect x="377" y="419" width="1" height="5" fill="#6a6a6a"/><rect x="432" y="419" width="1" height="5" fill="#6a6a6a"/><rect x="71" y="419" width="1" height="2" fill="#6a6a6a"/><rect x="127" y="419" width="1" height="2" fill="#6a6a6a"/><rect x="182" y="419" width="1" height="2" fill="#6a6a6a"/><rect x="210" y="419" width="1" height="2" fill="#6a6a6a"/><rect x="266" y="419" width="1" height="2" fill="#6a6a6a"/><rect x="321" y="419" width="1" height="2" fill="#6a6a6a"/><rect x="349" y="419" width="1" height="2" fill="#6a6a6a"/><rect x="404" y="419" width="1" height="2" fill="#6a6a6a"/><rect x="24" y="419" width="1" height="2" fill="#6a6a6a"/></g>
<g shape-rendering="crispEdges"><rect x="533" y="409" width="8" height="8" fill="#fff"/><rect x="533" y="409" width="8" height="1" fill="#777"/><rect x="533" y="409" width="1" height="8" fill="#777"/></g>
<line x1="535" y1="417" x2="541" y2="411" stroke="#000" stroke-width="1.2"/>
<text x="39.14" y="21" font-family="Liberation Sans, Arial, sans-serif" font-size="11" fill="#000" textLength="31.59" lengthAdjust="spacingAndGlyphs">XETRA</text><text x="74.44" y="21" font-family="Liberation Sans, Arial, sans-serif" font-size="11" fill="#000" textLength="19.39" lengthAdjust="spacingAndGlyphs">DAX</text><text x="97.00" y="21" font-family="Liberation Sans, Arial, sans-serif" font-size="11" fill="#000" textLength="15.91" lengthAdjust="spacingAndGlyphs">PF,</text><text x="116.76" y="21" font-family="Liberation Sans, Arial, sans-serif" font-size="11" fill="#000" textLength="26.93" lengthAdjust="spacingAndGlyphs">.DAX,</text><text x="148.00" y="21" font-family="Liberation Sans, Arial, sans-serif" font-size="11" fill="#000" textLength="62.42" lengthAdjust="spacingAndGlyphs">Wochenchart</text><text x="214.80" y="21" font-family="Liberation Sans, Arial, sans-serif" font-size="11" fill="#000" textLength="3.92" lengthAdjust="spacingAndGlyphs">-</text><text x="221.59" y="21" font-family="Liberation Sans, Arial, sans-serif" font-size="11" fill="#000" textLength="55.47" lengthAdjust="spacingAndGlyphs">12.04.1992</text><text x="281.00" y="21" font-family="Liberation Sans, Arial, sans-serif" font-size="11" fill="#000" textLength="3.67" lengthAdjust="spacingAndGlyphs">-</text><text x="288.00" y="21" font-family="Liberation Sans, Arial, sans-serif" font-size="11" fill="#000" textLength="55.06" lengthAdjust="spacingAndGlyphs">24.06.2007</text><text x="347.00" y="21" font-family="Liberation Sans, Arial, sans-serif" font-size="11" fill="#000" textLength="3.67" lengthAdjust="spacingAndGlyphs">-</text><text x="353.31" y="21" font-family="Liberation Sans, Arial, sans-serif" font-size="11" fill="#000" textLength="39.46" lengthAdjust="spacingAndGlyphs">7949.63</text><text x="39.03" y="34" font-family="Liberation Sans, Arial, sans-serif" font-size="11" fill="#ff0000" textLength="20.84" lengthAdjust="spacingAndGlyphs">SMA</text><text x="62.71" y="34" font-family="Liberation Sans, Arial, sans-serif" font-size="11" fill="#ff0000" textLength="33.83" lengthAdjust="spacingAndGlyphs">[Close,</text><text x="100.90" y="34" font-family="Liberation Sans, Arial, sans-serif" font-size="11" fill="#ff0000" textLength="65.34" lengthAdjust="spacingAndGlyphs">20]:7275.533</text><text x="38.97" y="47" font-family="Liberation Sans, Arial, sans-serif" font-size="11" fill="#0000ff" textLength="34.59" lengthAdjust="spacingAndGlyphs">SMA(2)</text><text x="77.32" y="47" font-family="Liberation Sans, Arial, sans-serif" font-size="11" fill="#0000ff" textLength="33.42" lengthAdjust="spacingAndGlyphs">[Close,</text><text x="115.10" y="47" font-family="Liberation Sans, Arial, sans-serif" font-size="11" fill="#0000ff" textLength="65.14" lengthAdjust="spacingAndGlyphs">40]:6838.134</text><text x="26.00" y="61" font-family="Liberation Sans, Arial, sans-serif" font-size="11" fill="#000" textLength="9.43" lengthAdjust="spacingAndGlyphs">©</text><text x="39.00" y="61" font-family="Liberation Sans, Arial, sans-serif" font-size="11" fill="#000" textLength="103.94" lengthAdjust="spacingAndGlyphs">www.tradesignal.com</text><text x="545" y="21" font-family="Liberation Sans, Arial, sans-serif" font-size="11" fill="#000">EUR</text><text x="548.5" y="54.5" font-family="Liberation Sans, Arial, sans-serif" font-size="11" fill="#000">8500</text><text x="548.5" y="76.2" font-family="Liberation Sans, Arial, sans-serif" font-size="11" fill="#000">8000</text><text x="548.5" y="98.0" font-family="Liberation Sans, Arial, sans-serif" font-size="11" fill="#000">7500</text><text x="548.5" y="119.8" font-family="Liberation Sans, Arial, sans-serif" font-size="11" fill="#000">7000</text><text x="548.5" y="141.5" font-family="Liberation Sans, Arial, sans-serif" font-size="11" fill="#000">6500</text><text x="548.5" y="163.2" font-family="Liberation Sans, Arial, sans-serif" font-size="11" fill="#000">6000</text><text x="548.5" y="185.0" font-family="Liberation Sans, Arial, sans-serif" font-size="11" fill="#000">5500</text><text x="548.5" y="206.8" font-family="Liberation Sans, Arial, sans-serif" font-size="11" fill="#000">5000</text><text x="548.5" y="228.5" font-family="Liberation Sans, Arial, sans-serif" font-size="11" fill="#000">4500</text><text x="548.5" y="250.2" font-family="Liberation Sans, Arial, sans-serif" font-size="11" fill="#000">4000</text><text x="548.5" y="272.0" font-family="Liberation Sans, Arial, sans-serif" font-size="11" fill="#000">3500</text><text x="548.5" y="293.8" font-family="Liberation Sans, Arial, sans-serif" font-size="11" fill="#000">3000</text><text x="548.5" y="315.5" font-family="Liberation Sans, Arial, sans-serif" font-size="11" fill="#000">2500</text><text x="548.5" y="337.2" font-family="Liberation Sans, Arial, sans-serif" font-size="11" fill="#000">2000</text><text x="548.5" y="359.0" font-family="Liberation Sans, Arial, sans-serif" font-size="11" fill="#000">1500</text><text x="548.5" y="380.8" font-family="Liberation Sans, Arial, sans-serif" font-size="11" fill="#000">1000</text><text x="548.5" y="402.5" font-family="Liberation Sans, Arial, sans-serif" font-size="11" fill="#000">500</text><text x="44" y="437" font-family="Liberation Sans, Arial, sans-serif" font-size="11" fill="#000">1993</text><text x="99" y="437" font-family="Liberation Sans, Arial, sans-serif" font-size="11" fill="#000">1995</text><text x="155" y="437" font-family="Liberation Sans, Arial, sans-serif" font-size="11" fill="#000">1997</text><text x="238" y="437" font-family="Liberation Sans, Arial, sans-serif" font-size="11" fill="#000">2000</text><text x="294" y="437" font-family="Liberation Sans, Arial, sans-serif" font-size="11" fill="#000">2002</text><text x="377" y="437" font-family="Liberation Sans, Arial, sans-serif" font-size="11" fill="#000">2005</text><text x="432" y="437" font-family="Liberation Sans, Arial, sans-serif" font-size="11" fill="#000">2007</text>
<g shape-rendering="crispEdges"><rect x="28.5" y="13.5" width="6" height="6" fill="none" stroke="#000"/><line x1="31.5" y1="11" x2="31.5" y2="13" stroke="#000"/><line x1="31.5" y1="20" x2="31.5" y2="22" stroke="#000"/></g>
<polyline points="26,24.5 28,29 26,33.5 M" fill="none"/>
<g fill="#ff0000" shape-rendering="crispEdges"><rect x="26" y="24" width="1" height="1"/><rect x="26" y="25" width="1" height="1"/><rect x="27" y="26" width="1" height="1"/><rect x="27" y="27" width="1" height="1"/><rect x="27" y="32" width="1" height="1"/><rect x="27" y="33" width="1" height="1"/><rect x="28" y="28" width="1" height="1"/><rect x="28" y="29" width="1" height="1"/><rect x="28" y="30" width="1" height="1"/><rect x="28" y="31" width="1" height="1"/><rect x="29" y="28" width="1" height="1"/><rect x="29" y="29" width="1" height="1"/><rect x="29" y="30" width="1" height="1"/><rect x="29" y="31" width="1" height="1"/><rect x="30" y="26" width="1" height="1"/><rect x="30" y="27" width="1" height="1"/><rect x="30" y="32" width="1" height="1"/><rect x="30" y="33" width="1" height="1"/><rect x="31" y="24" width="1" height="1"/><rect x="31" y="25" width="1" height="1"/><rect x="32" y="26" width="1" height="1"/><rect x="32" y="27" width="1" height="1"/><rect x="32" y="32" width="1" height="1"/><rect x="32" y="33" width="1" height="1"/><rect x="33" y="28" width="1" height="1"/><rect x="33" y="29" width="1" height="1"/><rect x="33" y="30" width="1" height="1"/><rect x="33" y="31" width="1" height="1"/><rect x="34" y="28" width="1" height="1"/><rect x="34" y="29" width="1" height="1"/><rect x="34" y="30" width="1" height="1"/><rect x="34" y="31" width="1" height="1"/><rect x="35" y="26" width="1" height="1"/><rect x="35" y="27" width="1" height="1"/><rect x="35" y="32" width="1" height="1"/><rect x="35" y="33" width="1" height="1"/><rect x="36" y="24" width="1" height="1"/><rect x="36" y="25" width="1" height="1"/></g>
<g fill="#0000ff" shape-rendering="crispEdges"><rect x="26" y="37" width="1" height="1"/><rect x="26" y="38" width="1" height="1"/><rect x="27" y="39" width="1" height="1"/><rect x="27" y="40" width="1" height="1"/><rect x="27" y="45" width="1" height="1"/><rect x="27" y="46" width="1" height="1"/><rect x="28" y="41" width="1" height="1"/><rect x="28" y="42" width="1" height="1"/><rect x="28" y="43" width="1" height="1"/><rect x="28" y="44" width="1" height="1"/><rect x="29" y="41" width="1" height="1"/><rect x="29" y="42" width="1" height="1"/><rect x="29" y="43" width="1" height="1"/><rect x="29" y="44" width="1" height="1"/><rect x="30" y="39" width="1" height="1"/><rect x="30" y="40" width="1" height="1"/><rect x="30" y="45" width="1" height="1"/><rect x="30" y="46" width="1" height="1"/><rect x="31" y="37" width="1" height="1"/><rect x="31" y="38" width="1" height="1"/><rect x="32" y="39" width="1" height="1"/><rect x="32" y="40" width="1" height="1"/><rect x="32" y="45" width="1" height="1"/><rect x="32" y="46" width="1" height="1"/><rect x="33" y="41" width="1" height="1"/><rect x="33" y="42" width="1" height="1"/><rect x="33" y="43" width="1" height="1"/><rect x="33" y="44" width="1" height="1"/><rect x="34" y="41" width="1" height="1"/><rect x="34" y="42" width="1" height="1"/><rect x="34" y="43" width="1" height="1"/><rect x="34" y="44" width="1" height="1"/><rect x="35" y="39" width="1" height="1"/><rect x="35" y="40" width="1" height="1"/><rect x="35" y="45" width="1" height="1"/><rect x="35" y="46" width="1" height="1"/><rect x="36" y="37" width="1" height="1"/><rect x="36" y="38" width="1" height="1"/></g></svg>
</body></html>
